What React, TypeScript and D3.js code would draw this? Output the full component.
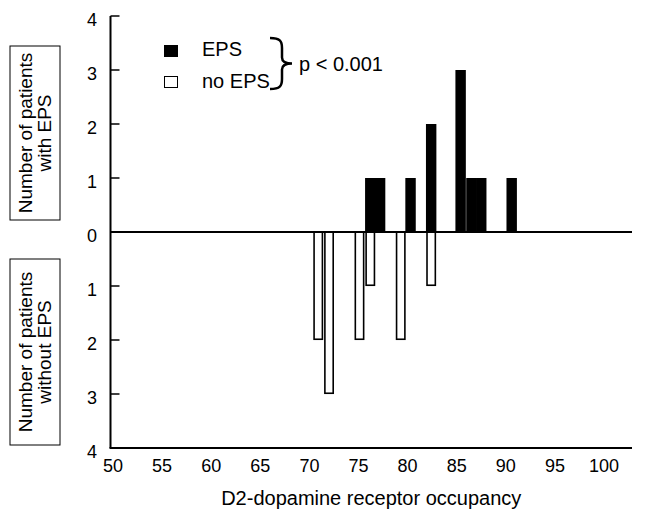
import React from "react";
import * as d3 from "d3";

// D2 receptor occupancy (%) bins and patient counts
const epsOccupancy = [76.2, 77.2, 80.3, 82.4, 85.4, 86.5, 87.5, 90.6];
const epsCounts = [1, 1, 1, 2, 3, 1, 1, 1];
const noEpsOccupancy = [70.9, 72.0, 75.1, 76.2, 79.3, 82.4];
const noEpsCounts = [2, 3, 2, 1, 2, 1];

const xTicks = [50, 55, 60, 65, 70, 75, 80, 85, 90, 95, 100];
const yTicks = [-4, -3, -2, -1, 0, 1, 2, 3, 4];

const W = 645;
const H = 509;
const FONT = "'Liberation Sans', Arial, Helvetica, sans-serif";

export default function App() {
  const x = d3.scaleLinear().domain([50, 100]).range([113, 604]);
  const y = d3.scaleLinear().domain([-4, 4]).range([448, 16]);
  const axisLeft = 110.5;
  const axisRight = 632;
  const binW = x(51) - x(50);

  const eps = epsOccupancy.map((v, i) => ({ v, n: epsCounts[i] }));
  const noEps = noEpsOccupancy.map((v, i) => ({ v, n: noEpsCounts[i] }));

  // brace path for the legend
  const bx = 270;
  const bTop = 38;
  const bBot = 89;
  const bMid = (bTop + bBot) / 2;
  const brace = `M${bx},${bTop} C${bx + 10},${bTop} ${bx + 12},${bTop + 3} ${bx + 12},${bTop + 10}
    L${bx + 12},${bMid - 6} C${bx + 12},${bMid - 2} ${bx + 16},${bMid} ${bx + 22},${bMid}
    C${bx + 16},${bMid} ${bx + 12},${bMid + 2} ${bx + 12},${bMid + 6}
    L${bx + 12},${bBot - 10} C${bx + 12},${bBot - 3} ${bx + 10},${bBot} ${bx},${bBot}`;

  return (
    <svg
      width={W}
      height={H}
      style={{ position: "absolute", left: 0, top: 0, background: "#fff" }}
      fontFamily={FONT}
    >
      <rect x={0} y={0} width={W} height={H} fill="#fff" />

      {/* EPS bars (upward) */}
      {eps.map((d, i) => (
        <rect
          key={"e" + i}
          x={x(d.v) - binW / 2 - 0.3}
          y={y(d.n)}
          width={binW + 0.6}
          height={y(0) - y(d.n)}
          fill="#000"
        />
      ))}

      {/* no-EPS bars (downward) */}
      {noEps.map((d, i) => (
        <rect
          key={"n" + i}
          x={x(d.v) - binW / 2 + 0.75}
          y={y(0)}
          width={binW - 1.5}
          height={y(-d.n) - y(0) - 0.75}
          fill="#fff"
          stroke="#000"
          strokeWidth={1.6}
        />
      ))}

      {/* axes */}
      <line x1={axisLeft} x2={axisLeft} y1={y(4)} y2={y(-4)} stroke="#000" strokeWidth={2} />
      <line x1={axisLeft - 1} x2={axisRight} y1={y(-4)} y2={y(-4)} stroke="#000" strokeWidth={2} />
      <line x1={axisLeft} x2={axisRight} y1={y(0)} y2={y(0)} stroke="#000" strokeWidth={2} />

      {yTicks.map((t) => (
        <g key={"yt" + t}>
          {t !== 0 && t !== -4 && (
            <line x1={axisLeft} x2={axisLeft + 9} y1={y(t)} y2={y(t)} stroke="#000" strokeWidth={1.5} />
          )}
          <text
            x={97}
            y={y(t) + 4}
            fontSize={18}
            textAnchor="end"
            dominantBaseline="central"
            fill="#000"
          >
            {Math.abs(t)}
          </text>
        </g>
      ))}

      {xTicks.map((t) => (
        <text key={"xt" + t} x={x(t)} y={472} fontSize={18} textAnchor="middle" fill="#000">
          {t}
        </text>
      ))}

      <text x={(axisLeft + axisRight) / 2} y={505} fontSize={20} textAnchor="middle" fill="#000">
        D2-dopamine receptor occupancy
      </text>

      {/* y-axis titles in boxes */}
      <rect x={10} y={46} width={50} height={174} fill="none" stroke="#000" strokeWidth={1} />
      <text transform={`translate(32,133) rotate(-90)`} fontSize={19} textAnchor="middle" fill="#000">
        Number of patients
      </text>
      <text transform={`translate(51,133) rotate(-90)`} fontSize={19} textAnchor="middle" fill="#000">
        with EPS
      </text>

      <rect x={10} y={259} width={50} height={186} fill="none" stroke="#000" strokeWidth={1} />
      <text transform={`translate(32,352) rotate(-90)`} fontSize={19} textAnchor="middle" fill="#000">
        Number of patients
      </text>
      <text transform={`translate(51,352) rotate(-90)`} fontSize={19} textAnchor="middle" fill="#000">
        without EPS
      </text>

      {/* legend */}
      <rect x={164} y={45} width={14} height={12} fill="#000" />
      <text x={202} y={56} fontSize={20} fill="#000">EPS</text>
      <rect x={164.5} y={76.5} width={13} height={11} fill="#fff" stroke="#000" strokeWidth={1} />
      <text x={202} y={88} fontSize={20} fill="#000">no EPS</text>
      <path d={brace} fill="none" stroke="#000" strokeWidth={2.5} />
      <text x={299} y={71} fontSize={20} fill="#000">p &lt; 0.001</text>
    </svg>
  );
}
